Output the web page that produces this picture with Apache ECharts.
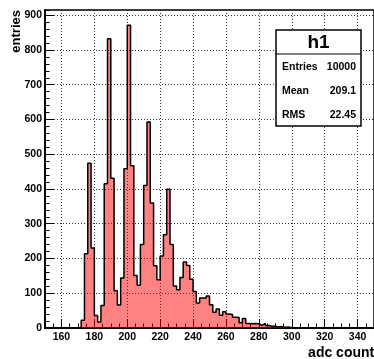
<!DOCTYPE html>
<html>
<head>
<meta charset="utf-8">
<script src="https://cdn.jsdelivr.net/npm/echarts@6/dist/echarts.min.js"></script>
<style>
  html, body { margin: 0; padding: 0; background: #fff; }
  #chart { width: 374px; height: 359px; }
</style>
</head>
<body>
<div id="chart"></div>
<script>
// histogram h1: 100 bins of width 2 from 150 to 350
var xMin = 150;
var xMax = 350;
var binWidth = 2;
var counts = [
  0, 0, 0, 0, 0, 0, 0, 0, 0, 0, 0,          // 150 - 170
  22, 214, 474, 230, 36, 17, 65, 415, 832,  // 172 - 188
  431, 107, 66, 144, 458, 871, 467, 151, 123, 240, // 190 - 208
  410, 593, 360, 179, 139, 207, 268, 399, 240, 121, // 210 - 228
  110, 145, 190, 180, 140, 105, 72, 86, 86, 92,     // 230 - 248
  67, 45, 55, 37, 47, 40, 39, 31, 30, 15,           // 250 - 268
  27, 13, 12, 13, 12, 8, 13, 7, 5, 5,               // 270 - 288
  3, 4, 2, 3, 1, 1, 0, 1, 0, 0,                     // 290 - 308
  0, 0, 0, 0, 0, 0, 0, 0, 0, 0,                     // 310 - 328
  0, 0, 0, 0, 0, 0, 0, 0, 0, 0                      // 330 - 348
];
var xMajor = [160, 180, 200, 220, 240, 260, 280, 300, 320, 340];
var yMax = 915;
var statsLabels = ['Entries', 'Mean', 'RMS'];
var statsValues = ['10000', '209.1', '22.45'];

var font = '"Liberation Sans", Arial, sans-serif';

// step points at the low edge of every bin, closed at the last edge
var points = counts.map(function (c, i) { return [xMin + i * binWidth, c]; });
points.push([xMax, counts[counts.length - 1]]);

var chart = echarts.init(document.getElementById('chart'), null, { renderer: 'canvas' });

var grid = { left: 45, top: 10, width: 333, height: 318 };

var statsText = [];
statsLabels.forEach(function (s, i) {
  statsText.push({ type: 'text', x: 282, y: 67 + i * 24,
    style: { text: s, font: 'bold 10.5px ' + font, fill: '#000', align: 'left', verticalAlign: 'middle' } });
  statsText.push({ type: 'text', x: 356, y: 67 + i * 24,
    style: { text: statsValues[i], font: 'bold 10.5px ' + font, fill: '#000', align: 'right', verticalAlign: 'middle' } });
});

var option = {
  animation: false,
  backgroundColor: '#fff',
  grid: {
    left: grid.left, top: grid.top, width: grid.width, height: grid.height,
    show: true, borderColor: '#000', borderWidth: 1.5, backgroundColor: '#fff'
  },
  xAxis: [
    {
      type: 'value', position: 'bottom', min: xMin, max: xMax, interval: 5,
      axisLine: { onZero: false, lineStyle: { color: '#000', width: 2 } },
      axisTick: { inside: true, length: 4.5, lineStyle: { color: '#000', width: 1 } },
      axisLabel: { show: false },
      splitLine: { show: false }
    },
    {
      type: 'value', position: 'bottom', min: xMin, max: xMax,
      axisLine: { onZero: false, lineStyle: { color: '#000', width: 2 } },
      axisTick: { inside: true, length: 9, customValues: xMajor, lineStyle: { color: '#000', width: 1 } },
      axisLabel: { customValues: xMajor, margin: 4, color: '#000', fontFamily: font, fontWeight: 'bold', fontSize: 10.5 },
      splitLine: { show: true, lineStyle: { color: '#333', width: 1, type: [1, 2] } }
    }
  ],
  yAxis: [
    {
      type: 'value', position: 'left', min: 0, max: yMax, interval: 100,
      axisLine: { onZero: false, lineStyle: { color: '#000', width: 2 } },
      axisTick: { inside: true, length: 9, lineStyle: { color: '#000', width: 1 } },
      axisLabel: { margin: 3, showMaxLabel: false, color: '#000', fontFamily: font, fontWeight: 'bold', fontSize: 10.5 },
      splitLine: { show: true, lineStyle: { color: '#333', width: 1, type: [1, 2] } }
    },
    {
      type: 'value', position: 'left', min: 0, max: yMax, interval: 20,
      axisLine: { show: false },
      axisTick: { inside: true, length: 4.5, lineStyle: { color: '#000', width: 1 } },
      axisLabel: { show: false },
      splitLine: { show: false }
    }
  ],
  series: [{
    type: 'line',
    step: 'end',
    xAxisIndex: 0,
    yAxisIndex: 0,
    data: points,
    symbol: 'none',
    lineStyle: { color: '#000', width: 1.5 },
    areaStyle: { color: 'rgba(255,0,0,0.7)', origin: 'start' }
  }],
  graphic: [
    { type: 'text', x: 23, y: 10, rotation: Math.PI / 2,
      style: { text: 'entries', font: 'bold 13px ' + font, fill: '#000', align: 'right', verticalAlign: 'bottom' } },
    { type: 'text', x: 382, y: 346,
      style: { text: 'adc counts', font: 'bold 14px ' + font, fill: '#000', align: 'right', verticalAlign: 'top' } },
    { type: 'rect', shape: { x: 276, y: 30, width: 85, height: 96 },
      style: { fill: '#fff', stroke: '#000', lineWidth: 1.5 }, z: 100 },
    { type: 'line', shape: { x1: 276, y1: 54, x2: 361, y2: 54 },
      style: { stroke: '#000', lineWidth: 1 }, z: 101 },
    { type: 'text', x: 318.5, y: 43,
      style: { text: 'h1', font: 'bold 19px ' + font, fill: '#000', align: 'center', verticalAlign: 'middle' }, z: 101 }
  ].concat(statsText.map(function (t) { t.z = 101; return t; }))
};

chart.setOption(option);
</script>
</body>
</html>
